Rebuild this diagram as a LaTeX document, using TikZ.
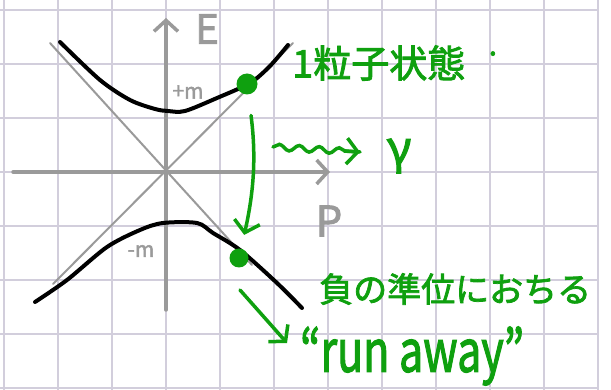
\documentclass[tikz,border=0pt]{standalone}
\usepackage{fontspec}
\newfontfamily\jp[FakeBold=2.2]{Noto Sans CJK JP}
\usetikzlibrary{arrows.meta,decorations.pathmorphing}
\definecolor{gridc}{HTML}{D2CEDC}
\definecolor{axisc}{HTML}{9A9A9A}
\definecolor{pen}{HTML}{0FA00F}
\tikzset{
  gridline/.style={gridc, line width=1.3pt},
  axisline/.style={axisc, line width=3.5pt, line cap=round,
    -{Straight Barb[length=11pt,width=24pt,line width=3.5pt]}},
  asym/.style={axisc, line width=2pt, line cap=round},
  band/.style={black, line width=4pt, line cap=round, line join=round},
  dot/.style={circle, fill=pen, inner sep=0pt, minimum size=#1},
  penarrow/.style={pen, line width=3.5pt, line cap=round, line join=round,
    -{Straight Barb[length=11pt,width=26pt,line width=3.5pt]}},
  greytext/.style={axisc, font=\jp, inner sep=0pt},
  greentext/.style={pen, font=\jp, inner sep=0pt}
}
\begin{document}
\begin{tikzpicture}[x=1pt,y=-1pt]
  \useasboundingbox (0,0) rectangle (611,390);
  \fill[white] (0,0) rectangle (611,390);
  % squared paper
  \foreach \gx in {4,58,...,598} \draw[gridline] (\gx,0) -- (\gx,390);
  \foreach \gy in {10,64,...,388} \draw[gridline] (0,\gy) -- (598,\gy);

  % light-cone asymptotes
  \draw[asym] (50,43) -- (252,265);
  \draw[asym] (293,43) -- (53,284);

  % axes
  \coordinate (pl) at (13,172);
  \coordinate (pr) at (330,172);
  \coordinate (eb) at (166,310);
  \coordinate (et) at (166,18);
  \draw[axisline] (pl) -- (pr);
  \draw[axisline] (eb) -- (et);
  \node[greytext, font=\jp\fontsize{40}{40}\selectfont] (elab) at (207,29) {E};
  \node[greytext, font=\jp\fontsize{42}{42}\selectfont] (plab) at (329,221) {P};
  \node[greytext, font=\jp\fontsize{21}{21}\selectfont] (mplus) at (188,92) {+m};
  \node[greytext, font=\jp\fontsize{21}{21}\selectfont] (mminus) at (141,251) {-m};

  % positive and negative energy branches
  \draw[band] plot[smooth, tension=0.5] coordinates {(60,42) (100,80) (130,100) (155,109) (168,111) (185,111) (217,98) (250,83) (270,66) (288,45)};
  \draw[band] plot[smooth, tension=0.5] coordinates {(35,302) (67,280) (107,247) (140,230) (163,223) (197,223) (213,233) (240,250) (277,283) (302,308)};

  % particle states
  \node[dot=21pt] (pos) at (247,84) {};
  \node[dot=19pt] (neg) at (239,258) {};

  % transition with photon emission
  \draw[penarrow, shorten <=21pt, shorten >=14pt] (pos) to[bend left=10] (neg);
  \coordinate (ws) at (273,147);
  \coordinate (we) at (360,152);
  \draw[pen, line width=3.5pt, line cap=round, decorate,
        decoration={snake, amplitude=3pt, segment length=20pt, post length=12pt}]
        (ws) -- (we);
  \draw[penarrow] (345,151) -- (we);
  \node[greentext, font=\jp\fontsize{46}{46}\selectfont] (gam) at (399,156) {γ};

  % runaway to ever lower levels
  \coordinate (rs) at (240,290);
  \coordinate (re) at (287,343);
  \draw[penarrow] (rs) -- (re);

  % annotations
  \node[greentext, anchor=west, font=\jp\fontsize{38}{38}\selectfont] (one) at (292,63) {1粒子状態};
  \node[greentext, font=\jp\fontsize{30}{30}\selectfont] (onedot) at (493,58) {·};
  \node[greentext, anchor=west, font=\jp\fontsize{34}{34}\selectfont] (fall) at (319,289) {負の準位におちる};
  \node[greentext, anchor=west, font=\jp\fontsize{58}{58}\selectfont] (run) at (300,356) {\scalebox{0.74}[1]{“run away”}};
\end{tikzpicture}
\end{document}
